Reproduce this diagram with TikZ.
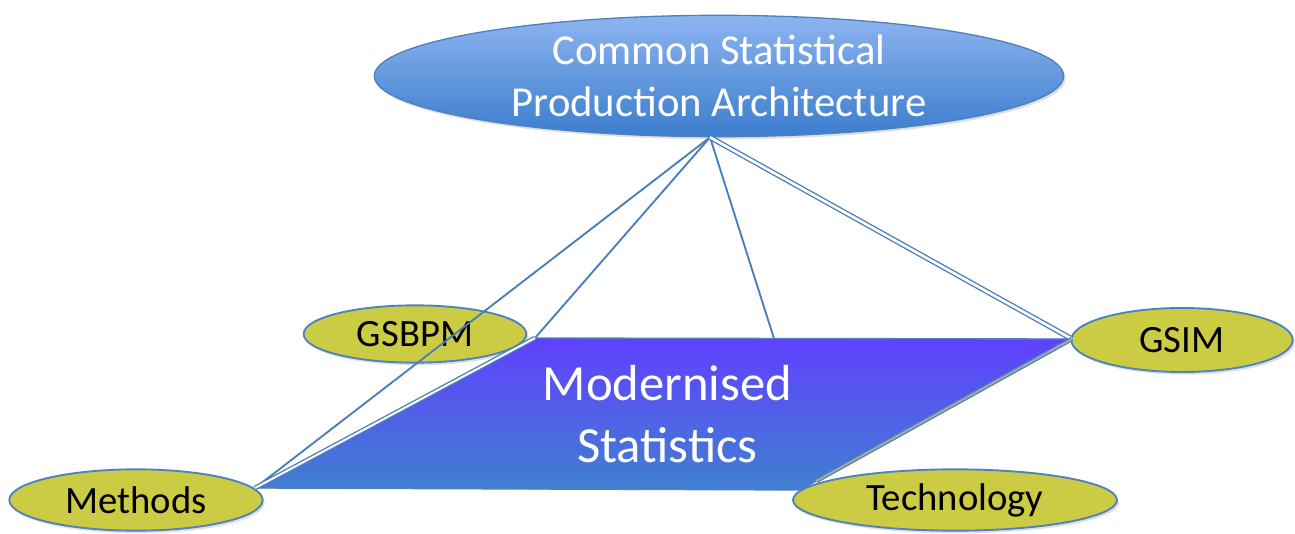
\documentclass[tikz,border=0pt]{standalone}
\usepackage{fontspec}
\setmainfont{Carlito}
\usetikzlibrary{shapes.geometric,calc,shadows}

\definecolor{ovalfill}{RGB}{204,204,68}
\definecolor{ovalline}{RGB}{79,129,189}
\definecolor{linkblue}{RGB}{74,126,187}
\definecolor{capatop}{RGB}{141,180,240}
\definecolor{capamid}{RGB}{76,136,214}
\definecolor{capabot}{RGB}{60,125,205}
\definecolor{slabtop}{RGB}{96,64,255}
\definecolor{slabbot}{RGB}{64,128,208}

\begin{document}
\begin{tikzpicture}[
		x=0.75pt,y=-0.75pt,
		every node/.style={font=\fontsize{29}{35}\selectfont},
		soft/.style={drop shadow={opacity=0.25,shadow xshift=1.5pt,shadow yshift=-2pt}},
		oval/.style={ellipse, draw=ovalline, line width=1.4pt, fill=ovalfill, inner sep=0pt, soft},
		link/.style={draw=linkblue, line width=1.4pt}
		]
		\useasboundingbox (0,0) rectangle (1295,534);
		
		% =========================
		% Middle: the modernised statistics slab
		% =========================
		\coordinate (tl) at (535,338);
		\coordinate (tr) at (1072,339);
		\coordinate (br) at (800,490);
		\coordinate (bl) at (255,488);
		
		\filldraw[top color=slabtop, middle color=slabtop!85!slabbot, bottom color=slabbot,
		draw=ovalline, line width=1pt]
		(tl) -- (tr) -- (br) -- (bl) -- cycle;
		\node[text=white, align=center, font=\fontsize{38}{46}\selectfont]
		(ms) at ($(tl)!0.5!(br)$) {Modernised\\Statistics};
		
		% =========================
		% Top: architecture
		% =========================
		\node[ellipse, draw=ovalline, line width=1pt, soft,
		top color=capatop, middle color=capamid, bottom color=capabot,
		minimum width=517pt, minimum height=91pt, inner sep=0pt,
		text=white, align=center, font=\fontsize{32}{39}\selectfont]
		(cspa) at (719,76) {Common Statistical\\Production Architecture};
		\coordinate (apex) at ($(cspa.south)+(-9,0)$);
		
		% =========================
		% Corners: standards
		% =========================
		\node[oval, minimum width=167pt, minimum height=43pt] (gsbpm) at (415,334) {GSBPM};
		\node[oval, minimum width=166pt, minimum height=48pt] (gsim) at (1182,340) {GSIM};
		\node[oval, minimum width=190pt, minimum height=46pt] (methods) at (136,500) {Methods};
		\node[oval, minimum width=243pt, minimum height=46pt] (tech) at (955,500) {Technology};
		
		% edges of the pyramid
		\draw[link] (apex) -- (bl);
		\draw[link] (apex) -- (tl);
		\draw[link] (apex) -- ($(tl)!0.445!(tr)$);
		\draw[link, line width=1pt, double=white, double distance=2pt] (apex) -- (tr);
		\draw[link, line width=1pt, double=white, double distance=1.5pt] (tl) -- (bl);
		\draw[draw=linkblue, line width=0.9pt, double=gray!70, double distance=1.5pt]
		(tr) -- ($(tr)!0.94!(br)$);
	\end{tikzpicture}
\end{document}
